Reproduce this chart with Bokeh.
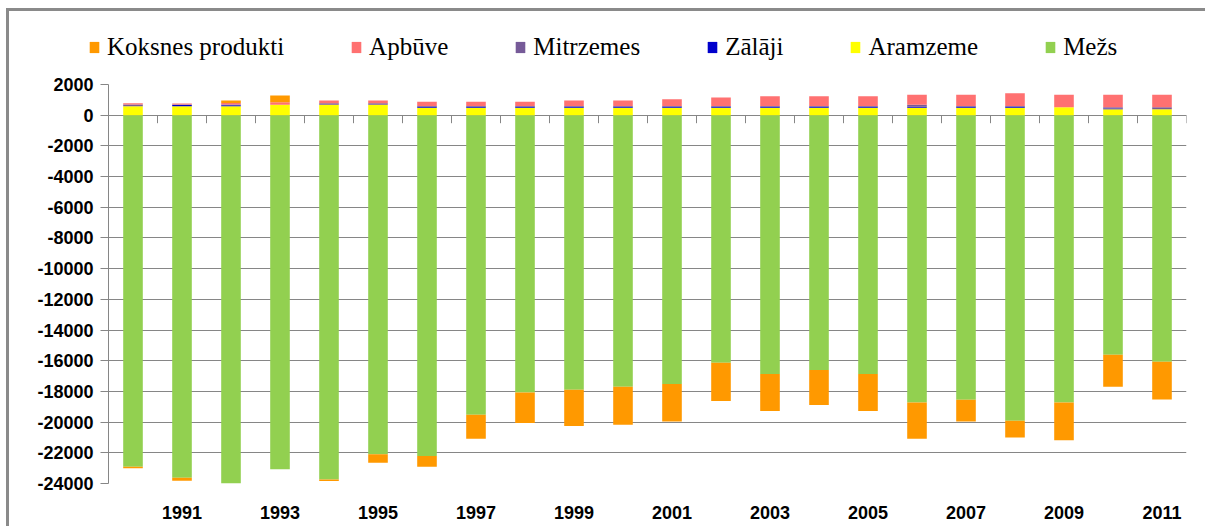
import numpy as np
from bokeh.plotting import figure
from bokeh.layouts import column, row
from bokeh.models import Legend, LegendItem, FixedTicker, Range1d, ColumnDataSource, PrintfTickFormatter
from bokeh.embed import file_html
from bokeh.resources import INLINE

years = list(range(1990, 2012))
year_labels = [1991, 1993, 1995, 1997, 1999, 2001, 2003, 2005, 2007, 2009, 2011]
y_ticks = list(range(-24000, 2001, 2000))

mezs = [-22910, -23630, -24000, -23070, -23740, -22090, -22200, -19520, -18065, -17890, -17700,
        -17520, -16130, -16870, -16610, -16870, -18720, -18545, -19910, -18720, -15610, -16065]
aramzeme = [590, 590, 580, 674, 674, 674, 478, 478, 478, 478, 478,
            478, 478, 478, 478, 478, 478, 478, 478, 520, 391, 391]
zalaji = [0, 70, 70, 0, 0, 0, 80, 80, 80, 80, 80,
          80, 80, 80, 80, 80, 80, 80, 80, 0, 50, 0]
mitrzemes = [100, 30, 40, 0, 109, 109, 40, 40, 40, 40, 40,
             40, 40, 40, 40, 40, 130, 40, 40, 0, 80, 130]
apbuve = [90, 80, 110, 174, 174, 174, 270, 270, 270, 360, 360,
          447, 555, 642, 642, 642, 640, 729, 838, 806, 804, 804]
koksnes = [-90, -195, 160, 435, -90, -565, -715, -1565, -2000, -2370, -2475,
           -2435, -2500, -2410, -2280, -2410, -2370, -1410, -1090, -2455, -2085, -2455]

series = [
    ("Mežs", mezs, "#92D050"),
    ("Aramzeme", aramzeme, "#FFFF00"),
    ("Zālāji", zalaji, "#0000CC"),
    ("Mitrzemes", mitrzemes, "#765A98"),
    ("Apbūve", apbuve, "#FF7171"),
    ("Koksnes produkti", koksnes, "#FF9900"),
]
legend_order = ["Koksnes produkti", "Apbūve", "Mitrzemes", "Zālāji", "Aramzeme", "Mežs"]
colors = {n: c for n, _, c in series}

W = 1196

# ---- main chart ----
p = figure(width=W, height=455, output_backend="svg", toolbar_location=None,
           x_range=Range1d(1989.5, 2011.5), y_range=Range1d(-24000, 2000),
           min_border_left=99, min_border_right=19, min_border_top=13, min_border_bottom=43)
p.outline_line_color = None
p.background_fill_color = "white"
p.border_fill_color = "white"

x = np.array(years, dtype=float)
pos = np.zeros(len(years))
neg = np.zeros(len(years))
for name, vals, color in series:
    v = np.array(vals, dtype=float)
    bottom = np.where(v >= 0, pos, neg + v)
    top = np.where(v >= 0, pos + v, neg)
    pos = np.where(v >= 0, pos + v, pos)
    neg = np.where(v < 0, neg + v, neg)
    src = ColumnDataSource(dict(x=x, top=top, bottom=bottom))
    p.vbar(x="x", top="top", bottom="bottom", width=0.4, source=src,
           fill_color=color, line_color=None)

# category tick marks hanging under the zero line
bounds = x + 0.5
tick_len = 8 * 26000 / 399
p.segment(x0=bounds, y0=np.zeros(len(bounds)), x1=bounds, y1=np.full(len(bounds), -tick_len),
          line_color="#868686", line_width=1)

p.xgrid.visible = False
p.ygrid.ticker = FixedTicker(ticks=y_ticks)
p.ygrid.grid_line_color = "#868686"
p.ygrid.grid_line_width = 1

p.yaxis.ticker = FixedTicker(ticks=y_ticks)
p.yaxis.formatter = PrintfTickFormatter(format="%d")
p.yaxis.axis_line_color = "#868686"
p.yaxis.major_tick_line_color = "#868686"
p.yaxis.major_tick_out = 8
p.yaxis.major_tick_in = 0
p.yaxis.minor_tick_line_color = None
p.yaxis.major_label_text_font = "Liberation Sans"
p.yaxis.major_label_text_font_style = "bold"
p.yaxis.major_label_text_font_size = "18px"
p.yaxis.major_label_text_color = "black"
p.yaxis.major_label_standoff = 7

p.xaxis.ticker = FixedTicker(ticks=year_labels)
p.xaxis.formatter = PrintfTickFormatter(format="%d")
p.xaxis.axis_line_color = None
p.xaxis.major_tick_line_color = None
p.xaxis.minor_tick_line_color = None
p.xaxis.major_label_text_font = "Liberation Sans"
p.xaxis.major_label_text_font_style = "bold"
p.xaxis.major_label_text_font_size = "18px"
p.xaxis.major_label_text_color = "black"
p.xaxis.major_label_standoff = 16

# ---- legend strip ----
lf = figure(width=W, height=60, output_backend="svg", toolbar_location=None,
            x_range=Range1d(0, 1), y_range=Range1d(0, 1),
            x_axis_location=None, y_axis_location=None,
            min_border_left=0, min_border_right=0, min_border_top=0, min_border_bottom=0)
lf.grid.visible = False
lf.outline_line_color = None
lf.background_fill_color = "white"
lf.border_fill_color = "white"
items = []
for n in legend_order:
    # swatch renderer kept outside the visible range; only its legend glyph shows
    r = lf.vbar(x=[-5], top=[-5], bottom=[-6], width=0.5, fill_color=colors[n], line_color=None)
    items.append(LegendItem(label=n, renderers=[r]))
legend = Legend(items=items, orientation="horizontal", location=(79, 10),
                label_text_font="Liberation Serif", label_text_font_size="25px",
                label_text_color="black", glyph_width=12, glyph_height=14,
                label_standoff=7, spacing=66, padding=0, margin=0,
                border_line_color=None, background_fill_alpha=0)
lf.add_layout(legend)

layout = column(row(lf), p, spacing=0,
                styles={"margin-left": "6px", "margin-top": "8px",
                        "border-left": "3px solid #8a8a8a", "border-top": "3px solid #8a8a8a"})

open("out.html", "w").write(file_html(layout, INLINE))
